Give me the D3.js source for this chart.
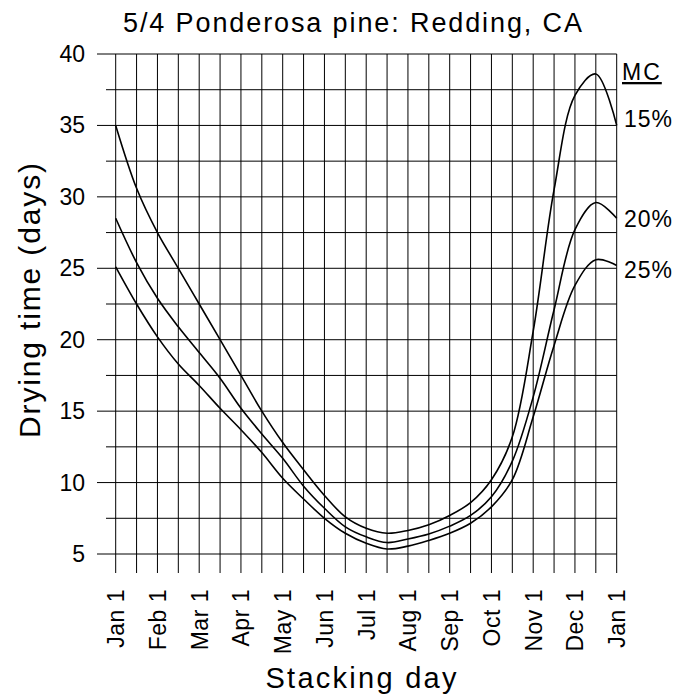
<!DOCTYPE html>
<html>
<head>
<meta charset="utf-8">
<script src="https://cdn.jsdelivr.net/npm/d3@7"></script>
<style>
  html, body { margin: 0; padding: 0; background: #fff; }
  svg { display: block; }
  text { font-family: "Liberation Sans", Arial, sans-serif; fill: #000; }
</style>
</head>
<body>
<svg id="chart" width="691" height="700"></svg>
<script>
// ---- data ----
const monthLabels = ["Jan 1","Feb 1","Mar 1","Apr 1","May 1","Jun 1","Jul 1","Aug 1","Sep 1","Oct 1","Nov 1","Dec 1","Jan 1"];
// stacking day, in half-month steps from Jan 1 (0) to the next Jan 1 (24)
const stackHalfMonth = [0,1,2,3,4,5,6,7,8,9,10,11,12,13,14,15,16,17,18,19,20,21,22,23,24];
const mc15 = [35.0,30.6,27.5,25.0,22.5,20.0,17.5,15.0,12.8,10.9,9.1,7.6,6.8,6.45,6.65,7.05,7.7,8.6,10.2,13.2,20.6,30.5,37.1,38.6,35.0];
const mc20 = [28.5,25.4,22.9,20.9,19.1,17.3,15.2,13.4,11.7,9.75,8.2,6.9,6.2,5.8,6.05,6.4,6.95,7.7,9.0,11.5,16.0,22.1,27.7,29.6,28.5];
const mc25 = [25.1,22.5,20.2,18.3,16.8,15.2,13.7,12.1,10.3,8.85,7.5,6.45,5.75,5.35,5.55,5.95,6.45,7.15,8.3,10.2,14.6,19.6,23.8,25.6,25.2];
const seriesNames = ["15%","20%","25%"];
const yMajorTicks = [5,10,15,20,25,30,35,40];
const yMinorTicks = [7.5,12.5,17.5,22.5,27.5,32.5,37.5];
const titleText = "5/4 Ponderosa pine: Redding, CA";
const xTitle = "Stacking day";
const yTitle = "Drying time (days)";
const legendTitle = "MC";

// ---- layout ----
const svg = d3.select("#chart");
svg.append("rect").attr("width",691).attr("height",700).attr("fill","#fff");

const x = d3.scaleLinear().domain([0,24]).range([115.7,616.7]);
const y = d3.scaleLinear().domain([5,40]).range([554,54]);

const grid = svg.append("g").attr("stroke","#000").attr("stroke-width",1).attr("fill","none");

// vertical gridlines every half month, extending below the 5 line
grid.selectAll("line.v").data(d3.range(0,25)).join("line")
  .attr("class","v")
  .attr("x1",d=>x(d)).attr("x2",d=>x(d))
  .attr("y1",y(40)).attr("y2",573);

// horizontal major gridlines (extend left as ticks)
grid.selectAll("line.hmaj").data(yMajorTicks).join("line")
  .attr("class","hmaj")
  .attr("x1",97).attr("x2",x(24))
  .attr("y1",d=>y(d)).attr("y2",d=>y(d));
// horizontal minor gridlines
grid.selectAll("line.hmin").data(yMinorTicks).join("line")
  .attr("class","hmin")
  .attr("x1",106).attr("x2",x(24))
  .attr("y1",d=>y(d)).attr("y2",d=>y(d));

// y tick labels
svg.append("g").selectAll("text").data(yMajorTicks).join("text")
  .attr("x",85).attr("y",d=>y(d))
  .attr("text-anchor","end").attr("dominant-baseline","central")
  .attr("font-size",23)
  .text(d=>d);

// x tick labels (rotated)
svg.append("g").selectAll("text").data(monthLabels).join("text")
  .attr("transform",(d,i)=>`translate(${x(i*2)+8.5},589) rotate(-90)`)
  .attr("text-anchor","end")
  .attr("font-size",23)
  .attr("letter-spacing",0.5)
  .text(d=>d);

// curves
const line = d3.line()
  .x((d,i)=>x(stackHalfMonth[i]))
  .y(d=>y(d))
  .curve(d3.curveCatmullRom.alpha(0.5));

const series = [mc15, mc20, mc25];
svg.append("g").selectAll("path").data(series).join("path")
  .attr("d",line)
  .attr("fill","none").attr("stroke","#000").attr("stroke-width",1.6);

// series labels
const labelY = [127,227,278];
svg.append("g").selectAll("text").data(seriesNames).join("text")
  .attr("x",624).attr("y",(d,i)=>labelY[i])
  .attr("font-size",23)
  .attr("letter-spacing",1)
  .text(d=>d);

svg.append("text").attr("x",622).attr("y",80)
  .attr("font-size",23).attr("letter-spacing",2)
  .style("text-decoration","underline")
  .text(legendTitle);

// title
svg.append("text").attr("x",352.5).attr("y",32)
  .attr("text-anchor","middle").attr("font-size",27)
  .attr("textLength",459).attr("lengthAdjust","spacing")
  .text(titleText);

// x axis title
svg.append("text").attr("x",361).attr("y",688)
  .attr("text-anchor","middle").attr("font-size",29)
  .attr("textLength",191).attr("lengthAdjust","spacing")
  .text(xTitle);

// y axis title
svg.append("text")
  .attr("transform","translate(40,300.5) rotate(-90)")
  .attr("text-anchor","middle").attr("font-size",30)
  .attr("textLength",275).attr("lengthAdjust","spacing")
  .text(yTitle);
</script>
</body>
</html>
